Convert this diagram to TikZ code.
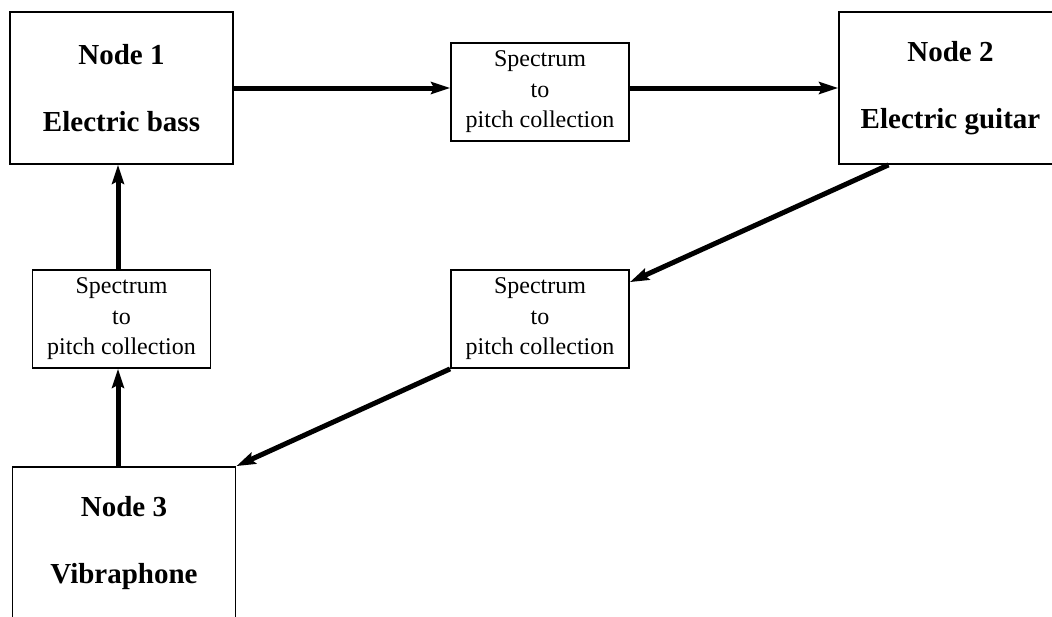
\documentclass[tikz,border=0pt]{standalone}
\usepackage{fontspec}
\setmainfont{Liberation Serif}
\usetikzlibrary{arrows.meta}
\begin{document}
\begin{tikzpicture}[x=1pt,y=-1pt,
  bignode/.style={draw,line width=1.8pt,minimum width=223pt,minimum height=152pt,inner sep=0pt,align=center,font=\bfseries\fontsize{29}{67}\selectfont},
  smallbox/.style={draw,line width=1.8pt,minimum width=178pt,minimum height=98pt,inner sep=0pt,align=center,font=\fontsize{24}{30.5}\selectfont},
  flow/.style={line width=5pt,-{Stealth[length=19pt,width=12pt,inset=3pt]}}]
\clip (0,0) rectangle (1052,616);
\fill[white] (0,0) rectangle (1052,616);
\node[bignode] (n1) at (121.5,88) {Node 1\\Electric bass};
\node[bignode] (n2) at (950.5,88) {Node 2\\Electric guitar};
\node[bignode] (n3) at (124,543) {Node 3\\Vibraphone};
\node[smallbox] (mt) at (540,92) {Spectrum\\to\\pitch collection};
\node[smallbox] (rb) at (540,319) {Spectrum\\to\\pitch collection};
\node[smallbox] (lb) at (121.5,319) {Spectrum\\to\\pitch collection};
\draw[flow] (n1.east) -- (n1.east -| mt.west);
\draw[flow] (n1.east -| mt.east) -- (n1.east -| n2.west);
\draw[flow] ([xshift=-62pt]n2.south) -- ([yshift=-13pt]rb.north east);
\draw[flow] (rb.south west) -- (n3.north east);
\draw[flow] ([xshift=-6pt]n3.north) -- ([xshift=-3.5pt]lb.south);
\draw[flow] ([xshift=-3.5pt]lb.north) -- ([xshift=-3.5pt]n1.south);
\end{tikzpicture}
\end{document}
